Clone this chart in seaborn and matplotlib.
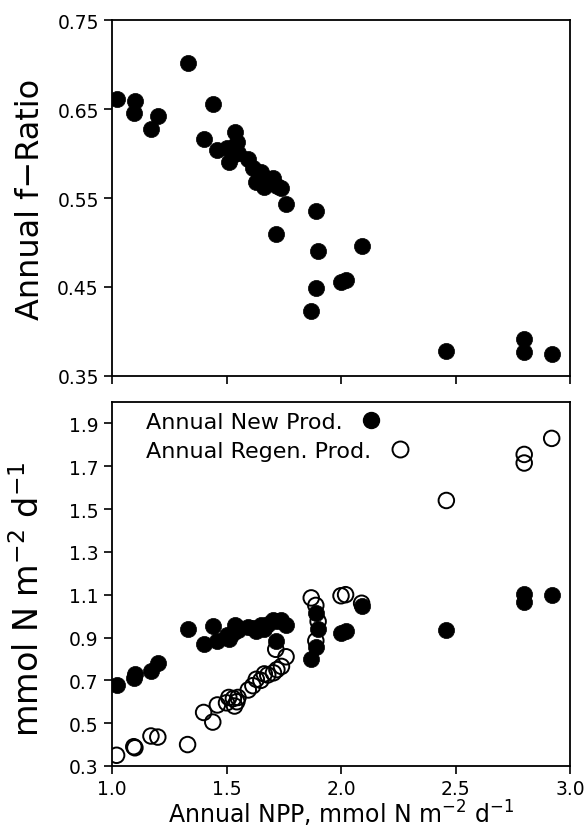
import matplotlib
matplotlib.use("Agg")
import matplotlib.pyplot as plt
import seaborn as sns
import pandas as pd
from matplotlib.lines import Line2D

# ---- data ----
npp = [1.02, 1.10, 1.095, 1.20, 1.17, 1.33, 1.44, 1.40, 1.46, 1.50, 1.51, 1.535,
       1.545, 1.55, 1.53, 1.595, 1.615, 1.65, 1.63, 1.68, 1.665, 1.705, 1.72,
       1.74, 1.76, 1.715, 1.89, 1.90, 2.09, 1.89, 2.00, 2.02, 1.87, 2.46, 2.80,
       2.80, 2.92]
f_ratio = [0.661, 0.659, 0.645, 0.642, 0.628, 0.702, 0.656, 0.616, 0.604, 0.606,
           0.590, 0.624, 0.613, 0.601, 0.598, 0.594, 0.584, 0.579, 0.568, 0.571,
           0.562, 0.573, 0.564, 0.561, 0.543, 0.510, 0.535, 0.491, 0.496, 0.449,
           0.456, 0.458, 0.423, 0.378, 0.392, 0.377, 0.375]
new_prod = [0.68, 0.73, 0.71, 0.78, 0.745, 0.94, 0.955, 0.87, 0.885, 0.91, 0.895,
            0.96, 0.95, 0.935, 0.92, 0.95, 0.945, 0.96, 0.93, 0.965, 0.94, 0.98,
            0.975, 0.98, 0.96, 0.885, 1.015, 0.94, 1.045, 0.855, 0.92, 0.93, 0.80,
            0.935, 1.105, 1.065, 1.10]
regen_prod = [0.35, 0.385, 0.39, 0.435, 0.44, 0.40, 0.505, 0.55, 0.585, 0.595,
              0.62, 0.58, 0.60, 0.62, 0.615, 0.655, 0.675, 0.70, 0.705, 0.725,
              0.73, 0.735, 0.75, 0.765, 0.81, 0.845, 0.885, 0.975, 1.06, 1.05,
              1.095, 1.10, 1.085, 1.54, 1.715, 1.755, 1.83]

x_ticks = [1.0, 1.5, 2.0, 2.5, 3.0]
top_yticks = [0.35, 0.45, 0.55, 0.65, 0.75]
bot_yticks = [0.3, 0.5, 0.7, 0.9, 1.1, 1.3, 1.5, 1.7, 1.9]

df = pd.DataFrame({"npp": npp, "f": f_ratio, "new": new_prod, "regen": regen_prod})

sns.set_theme(style="ticks")
plt.rcParams["font.family"] = ["DejaVu Sans"]
plt.rcParams["axes.linewidth"] = 1.3
plt.rcParams["mathtext.fontset"] = "dejavusans"
plt.rcParams["text.color"] = "black"
plt.rcParams["legend.labelcolor"] = "black"

fig = plt.figure(figsize=(5.88, 8.28), dpi=100)
ax1 = fig.add_axes([0.1905, 0.5447, 0.7789, 0.4299])
ax2 = fig.add_axes([0.1905, 0.0737, 0.7789, 0.4396])

# top panel
sns.scatterplot(data=df, x="npp", y="f", ax=ax1, color="black", s=135,
                edgecolor="black", linewidth=0.5, legend=False)
ax1.set_xlim(1.0, 3.0)
ax1.set_ylim(0.35, 0.75)
ax1.set_xticks(x_ticks)
ax1.set_xticklabels([])
ax1.set_yticks(top_yticks)
ax1.set_yticklabels([f"{v:.2f}" for v in top_yticks])
ax1.set_xlabel("")
ax1.set_ylabel("Annual f\u2212Ratio", fontsize=23)
ax1.yaxis.set_label_coords(-0.145, 0.5)

# bottom panel
sns.scatterplot(data=df, x="npp", y="regen", ax=ax2, facecolor="none",
                edgecolor="black", s=125, linewidth=1.4, legend=False)
sns.scatterplot(data=df, x="npp", y="new", ax=ax2, color="black", s=135,
                edgecolor="black", linewidth=0.5, legend=False)
ax2.set_xlim(1.0, 3.0)
ax2.set_ylim(0.3, 2.0)
ax2.set_xticks(x_ticks)
ax2.set_xticklabels([f"{v:.1f}" for v in x_ticks])
ax2.set_yticks(bot_yticks)
ax2.set_yticklabels([f"{v:.1f}" for v in bot_yticks])
ax2.set_xlabel("Annual NPP, mmol N m$^{-2}$ d$^{-1}$", fontsize=17, labelpad=0)
ax2.set_ylabel("mmol N m$^{-2}$ d$^{-1}$", fontsize=24)
ax2.yaxis.set_label_coords(-0.145, 0.46)

h_new = Line2D([], [], marker="o", linestyle="none", markersize=11.5,
               markerfacecolor="black", markeredgecolor="black")
h_reg = Line2D([], [], marker="o", linestyle="none", markersize=11.5,
               markerfacecolor="none", markeredgecolor="black", markeredgewidth=1.4)
leg1 = ax2.legend([h_new], ["Annual New Prod."], loc="upper left",
                  bbox_to_anchor=(0.04, 1.015), frameon=False, markerfirst=False,
                  fontsize=16, handletextpad=0.3, borderaxespad=0.3,
                  labelcolor="black")
ax2.add_artist(leg1)
ax2.legend([h_reg], ["Annual Regen. Prod."], loc="upper left",
           bbox_to_anchor=(0.04, 0.935), frameon=False, markerfirst=False,
           fontsize=16, handletextpad=0.3, borderaxespad=0.3, labelcolor="black")

for ax in (ax1, ax2):
    for sp in ax.spines.values():
        sp.set_visible(True)
        sp.set_color("black")
        sp.set_linewidth(1.3)
    ax.tick_params(axis="both", direction="out", length=6, width=1.2,
                   labelsize=13.5, colors="black")
    ax.yaxis.label.set_color("black")
    ax.xaxis.label.set_color("black")

fig.savefig("out.png", dpi=100, facecolor="white")
